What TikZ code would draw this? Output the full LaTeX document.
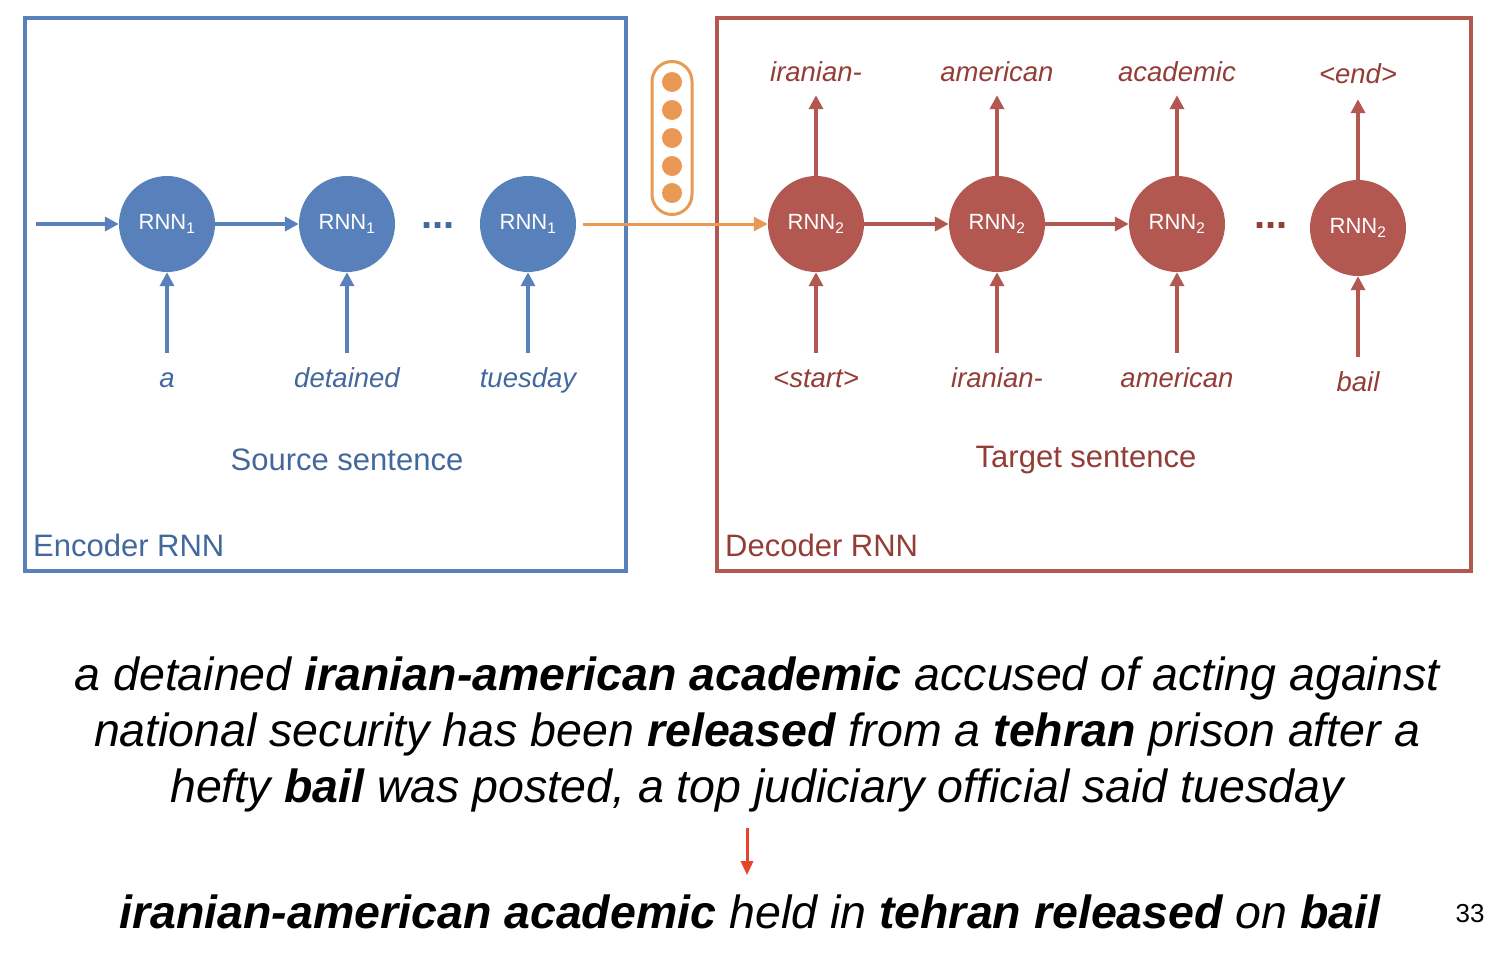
\documentclass[tikz,border=0pt]{standalone}
\usepackage{fontspec}
\setmainfont{Liberation Sans}
\usepackage{tikz}
\usetikzlibrary{arrows.meta, positioning}
\definecolor{encblue}{RGB}{88,128,187}
\definecolor{enctext}{RGB}{66,104,158}
\definecolor{decred}{RGB}{178,88,80}
\definecolor{dectext}{RGB}{148,60,54}
\definecolor{ctxorange}{RGB}{234,153,84}
\definecolor{pointred}{RGB}{232,68,42}

\begin{document}
\begin{tikzpicture}[
        x=1pt, y=-1pt,
        rnnenc/.style={circle, fill=encblue, minimum size=96pt, inner sep=0pt, text=white, font=\fontsize{22}{26}\selectfont},
        rnndec/.style={circle, fill=decred, minimum size=96pt, inner sep=0pt, text=white, font=\fontsize{22}{26}\selectfont},
        encword/.style={font=\fontsize{27.5}{30}\selectfont\itshape, text=enctext, text height=0.75em, text depth=0.25em, inner sep=3pt},
        decword/.style={font=\fontsize{27.5}{30}\selectfont\itshape, text=dectext, text height=0.75em, text depth=0.25em, inner sep=3pt},
        encarrow/.style={-{Triangle[width=14pt, length=14pt]}, line width=4pt, encblue},
        decarrow/.style={-{Triangle[width=14pt, length=14pt]}, line width=4pt, decred},
        ctxarrow/.style={-{Triangle[width=14pt, length=14pt]}, line width=3pt, ctxorange},
        ctxunit/.style={circle, fill=ctxorange, minimum size=20pt, inner sep=0pt},
        dotsnode/.style={font=\fontsize{40}{44}\selectfont\bfseries, anchor=base, inner sep=0pt},
        boxlabel/.style={font=\fontsize{31}{36}\selectfont, anchor=base west, inner sep=0pt},
        caption/.style={font=\fontsize{31}{34}\selectfont, inner sep=0pt},
        article/.style={font=\fontsize{46.5}{56}\selectfont\itshape, align=center, inner sep=0pt}
    ]
    \useasboundingbox (0,0) rectangle (1500,956);

    % Encoder
    \draw[encblue, line width=4pt] (25,18) rectangle (626,571);
    \node[rnnenc] (e1) at (167,224) {RNN\textsubscript{1}};
    \node[rnnenc] (e2) at (347,224) {RNN\textsubscript{1}};
    \node[rnnenc] (e3) at (528,224) {RNN\textsubscript{1}};
    \node[dotsnode, text=enctext] (edots) at (438,228) {...};
    \coordinate (estart) at (36,224);

    \node[encword] (wa)   at (167,385) {a};
    \node[encword] (wdet) at (347,385) {detained};
    \node[encword] (wtue) at (528,385) {tuesday};

    \draw[encarrow] (estart) -- (e1);
    \draw[encarrow] (e1) -- (e2);
    \draw[encarrow, shorten <=24pt] (wa.north) -- (e1);
    \draw[encarrow, shorten <=24pt] (wdet.north) -- (e2);
    \draw[encarrow, shorten <=24pt] (wtue.north) -- (e3);

    \node[caption, text=enctext] (src) at (347,460) {Source sentence};
    \node[boxlabel, text=enctext] (enclabel) at (33,556) {Encoder RNN};

    % Context vector
    \node[draw=ctxorange, line width=3pt, rounded corners=20pt, minimum width=40pt, minimum height=153pt] (ctx) at (672,138) {};
    \node[ctxunit] (c1) at (672,82) {};
    \node[ctxunit] (c2) at (672,110) {};
    \node[ctxunit] (c3) at (672,138) {};
    \node[ctxunit] (c4) at (672,166) {};
    \node[ctxunit] (c5) at (672,193) {};

    % Decoder
    \draw[decred, line width=4pt] (717,18) rectangle (1471,571);
    \node[rnndec] (d1) at (816,224) {RNN\textsubscript{2}};
    \node[rnndec] (d2) at (997,224) {RNN\textsubscript{2}};
    \node[rnndec] (d3) at (1177,224) {RNN\textsubscript{2}};
    \node[rnndec] (d4) at (1358,228) {RNN\textsubscript{2}};
    \node[dotsnode, text=dectext] (ddots) at (1271,228) {...};

    \draw[ctxarrow, shorten <=7pt] (e3) -- (d1);
    \draw[decarrow] (d1) -- (d2);
    \draw[decarrow] (d2) -- (d3);

    \node[decword] (in1) at (816,385) {\textless start\textgreater};
    \node[decword] (in2) at (997,385) {iranian-};
    \node[decword] (in3) at (1177,385) {american};
    \node[decword] (in4) at (1358,389) {bail};
    \node[decword] (out1) at (816,79) {iranian-};
    \node[decword] (out2) at (997,79) {american};
    \node[decword] (out3) at (1177,79) {academic};
    \node[decword] (out4) at (1358,81) {\textless end\textgreater};

    \draw[decarrow, shorten <=24pt] (in1.north) -- (d1);
    \draw[decarrow, shorten <=24pt] (in2.north) -- (d2);
    \draw[decarrow, shorten <=24pt] (in3.north) -- (d3);
    \draw[decarrow, shorten <=24pt] (in4.north) -- (d4);
    \draw[decarrow, shorten >=8pt] (d1) -- (out1.south);
    \draw[decarrow, shorten >=8pt] (d2) -- (out2.south);
    \draw[decarrow, shorten >=8pt] (d3) -- (out3.south);
    \draw[decarrow, shorten >=10pt] (d4) -- (out4.south);

    \node[caption, text=dectext] (tgt) at (1086,460) {Target sentence};
    \node[boxlabel, text=dectext] (declabel) at (725,556) {Decoder RNN};

    % Example sentence and summary
    \node[article] (source) at (757,734) {a detained \textbf{iranian-american academic} accused of acting against\\
        national security has been \textbf{released} from a \textbf{tehran} prison after a\\
        hefty \textbf{bail} was posted, a top judiciary official said tuesday};
    \node[article, anchor=base] (summary) at (750,928) {\textbf{iranian-american academic} held in \textbf{tehran released} on \textbf{bail}};
    \draw[-{Triangle[width=12pt, length=14pt]}, line width=3pt, pointred, shorten <=16pt, shorten >=19pt]
        ([xshift=-10pt]source.south) -- ([xshift=-3pt]summary.north);

    \node[font=\fontsize{26}{30}\selectfont, anchor=base] (page) at (1470,922) {33};
\end{tikzpicture}
\end{document}
